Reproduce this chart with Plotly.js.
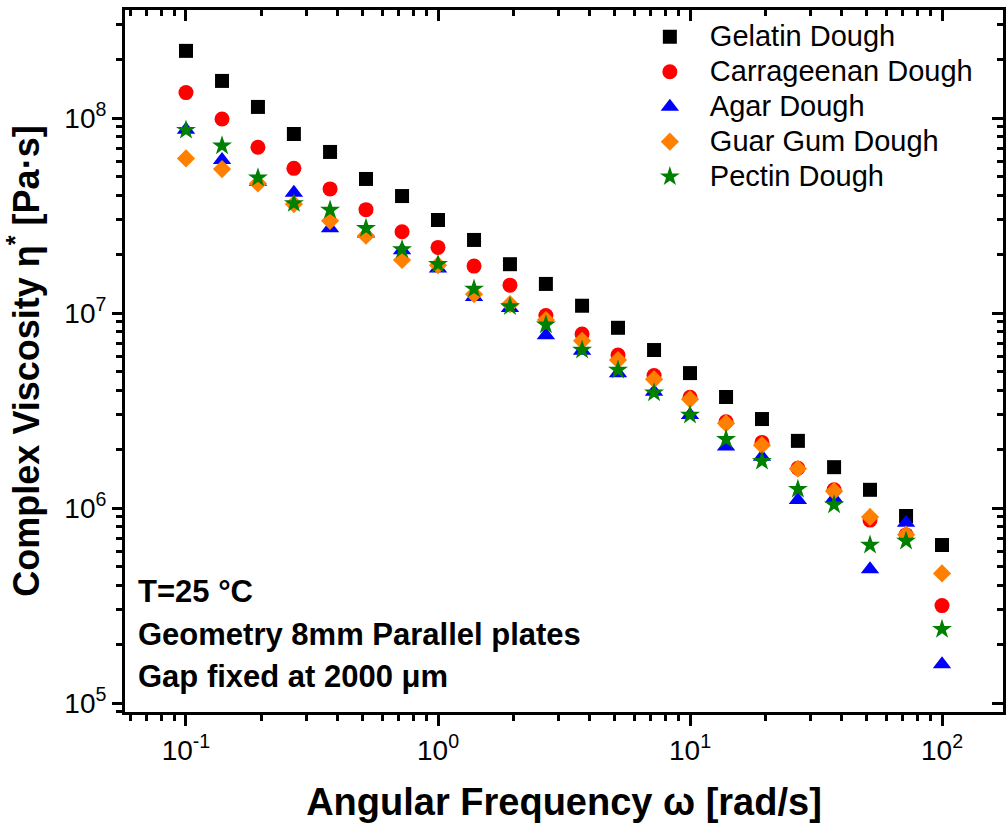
<!DOCTYPE html>
<html>
<head>
<meta charset="utf-8">
<script src="https://cdn.plot.ly/plotly-3.0.1.min.js"></script>
<style>html,body{margin:0;padding:0;background:#fff;}#chart{width:1007px;height:825px;}</style>
</head>
<body>
<div id="chart"></div>
<script>
// Angular frequency (rad/s)
const omega = [0.1, 0.139, 0.193, 0.268, 0.373, 0.518, 0.720, 1.0, 1.39, 1.93, 2.68, 3.73, 5.18, 7.20, 10, 13.9, 19.3, 26.8, 37.3, 51.8, 72.0, 100];

// Complex viscosity (Pa·s)
const gelatin = [2.21e8, 1.55e8, 1.14e8, 8.28e7, 6.7e7, 4.87e7, 3.98e7, 3.0e7, 2.37e7, 1.78e7, 1.41e7, 1.09e7, 8.4e6, 6.46e6, 4.92e6, 3.71e6, 2.86e6, 2.21e6, 1.62e6, 1.24e6, 9.1e5, 6.46e5];
const carrageenan = [1.35e8, 9.88e7, 7.08e7, 5.52e7, 4.33e7, 3.39e7, 2.61e7, 2.17e7, 1.74e7, 1.39e7, 9.7e6, 7.8e6, 6.09e6, 4.78e6, 3.70e6, 2.77e6, 2.17e6, 1.60e6, 1.24e6, 8.67e5, 7.28e5, 3.16e5];
const agar = [8.7e7, 6.1e7, 4.71e7, 4.14e7, 2.72e7, 2.56e7, 2.1e7, 1.69e7, 1.21e7, 1.06e7, 7.7e6, 6.4e6, 4.91e6, 3.95e6, 3.0e6, 2.07e6, 1.83e6, 1.10e6, 1.12e6, 4.85e5, 8.4e5, 1.58e5];
const guar = [6.21e7, 5.47e7, 4.62e7, 3.62e7, 2.97e7, 2.49e7, 1.87e7, 1.76e7, 1.25e7, 1.11e7, 9.2e6, 7.2e6, 5.74e6, 4.57e6, 3.61e6, 2.72e6, 2.1e6, 1.59e6, 1.22e6, 9.0e5, 7.3e5, 4.62e5];
const pectin = [8.67e7, 7.21e7, 4.94e7, 3.65e7, 3.38e7, 2.72e7, 2.12e7, 1.78e7, 1.33e7, 1.08e7, 8.7e6, 6.46e6, 5.1e6, 3.9e6, 3.0e6, 2.25e6, 1.74e6, 1.25e6, 1.04e6, 6.46e5, 6.78e5, 2.39e5];

const seriesNames = ['Gelatin Dough', 'Carrageenan Dough', 'Agar Dough', 'Guar Gum Dough', 'Pectin Dough'];
const seriesData = [gelatin, carrageenan, agar, guar, pectin];
const seriesColors = ['#000000', '#ff0000', '#0000ff', '#ff8000', '#008000'];
const seriesSymbols = ['square', 'circle', 'triangle-up', 'diamond', 'star'];
const seriesSizes = [14, 15, 16, 14, 15];

const xTickVals = [0.1, 1, 10, 100];
const xTickText = ['10<sup>-1</sup>', '10<sup>0</sup>', '10<sup>1</sup>', '10<sup>2</sup>'];
const yTickVals = [1e5, 1e6, 1e7, 1e8];
const yTickText = ['10<sup>5</sup>', '10<sup>6</sup>', '10<sup>7</sup>', '10<sup>8</sup>'];

const notes = ['T=25 °C', 'Geometry 8mm Parallel plates', 'Gap fixed at 2000 μm'];

const traces = seriesNames.map((n, i) => ({
  type: 'scatter', mode: 'markers',
  name: '<span style="font-size:29px">' + n + '</span>',
  x: omega, y: seriesData[i],
  marker: {color: seriesColors[i], symbol: seriesSymbols[i], size: seriesSizes[i], line: {width: 0}}
}));
// empty trace to bind mirror axes
traces.push({type: 'scatter', mode: 'markers', x: [], y: [], xaxis: 'x2', yaxis: 'y2', showlegend: false, hoverinfo: 'skip'});

const xr = [-1.242, 2.242];
const yr = [4.954, 8.554];
const sans = 'Liberation Sans, Arial, sans-serif';

const layout = {
  width: 1007, height: 825,
  margin: {l: 125, r: 4, t: 10, b: 113},
  paper_bgcolor: '#fff', plot_bgcolor: '#fff',
  showlegend: true,
  legend: {
    x: 0.575, y: 0.994, xanchor: 'left', yanchor: 'top',
    font: {family: sans, size: 24.6, color: '#000'},
    bgcolor: 'rgba(0,0,0,0)', borderwidth: 0, tracegroupgap: 0,
    itemwidth: 70
  },
  xaxis: {
    type: 'log', range: xr, autorange: false,
    showgrid: false, zeroline: false,
    showline: true, linecolor: '#000', linewidth: 3,
    ticks: 'outside', ticklen: 11, tickwidth: 3, tickcolor: '#000',
    tickmode: 'array', tickvals: xTickVals, ticktext: xTickText,
    minor: {dtick: 'D1', ticks: 'outside', ticklen: 6, tickwidth: 3, tickcolor: '#000', showgrid: false},
    tickfont: {family: sans, size: 28, color: '#000'},
    title: {text: '<b>Angular Frequency ω [rad/s]</b>', font: {family: sans, size: 38, color: '#000'}, standoff: 24},
    automargin: false
  },
  yaxis: {
    type: 'log', range: yr, autorange: false,
    showgrid: false, zeroline: false,
    showline: true, linecolor: '#000', linewidth: 3,
    ticks: 'outside', ticklen: 10, tickwidth: 3, tickcolor: '#000',
    tickmode: 'array', tickvals: yTickVals, ticktext: yTickText,
    minor: {dtick: 'D1', ticks: 'outside', ticklen: 6, tickwidth: 3, tickcolor: '#000', showgrid: false},
    tickfont: {family: sans, size: 28, color: '#000'},
    title: {text: '<b>Complex Viscosity η<sup>*</sup> [Pa·s]</b>', font: {family: sans, size: 36, color: '#000'}, standoff: 14},
    automargin: false
  },
  xaxis2: {
    type: 'log', range: xr, autorange: false, overlaying: 'x', side: 'top', anchor: 'y2',
    showgrid: false, zeroline: false,
    showline: true, linecolor: '#000', linewidth: 3,
    ticks: 'inside', ticklen: 11, tickwidth: 3, tickcolor: '#000',
    tickmode: 'array', tickvals: xTickVals, showticklabels: false,
    minor: {dtick: 'D1', ticks: 'inside', ticklen: 6, tickwidth: 3, tickcolor: '#000', showgrid: false}
  },
  yaxis2: {
    type: 'log', range: yr, autorange: false, overlaying: 'y', side: 'right', anchor: 'x2',
    showgrid: false, zeroline: false,
    showline: true, linecolor: '#000', linewidth: 3,
    ticks: 'inside', ticklen: 11, tickwidth: 3, tickcolor: '#000',
    tickmode: 'array', tickvals: yTickVals, showticklabels: false,
    minor: {dtick: 'D1', ticks: 'inside', ticklen: 6, tickwidth: 3, tickcolor: '#000', showgrid: false}
  },
  annotations: notes.map((t, i) => ({
    text: '<b>' + t + '</b>', xref: 'paper', yref: 'paper',
    x: 0.013, y: [0.171, 0.111, 0.051][i], xanchor: 'left', yanchor: 'middle',
    showarrow: false, font: {family: sans, size: 31, color: '#000'}
  }))
};

Plotly.newPlot('chart', traces, layout, {displayModeBar: false, staticPlot: true});
</script>
</body>
</html>
